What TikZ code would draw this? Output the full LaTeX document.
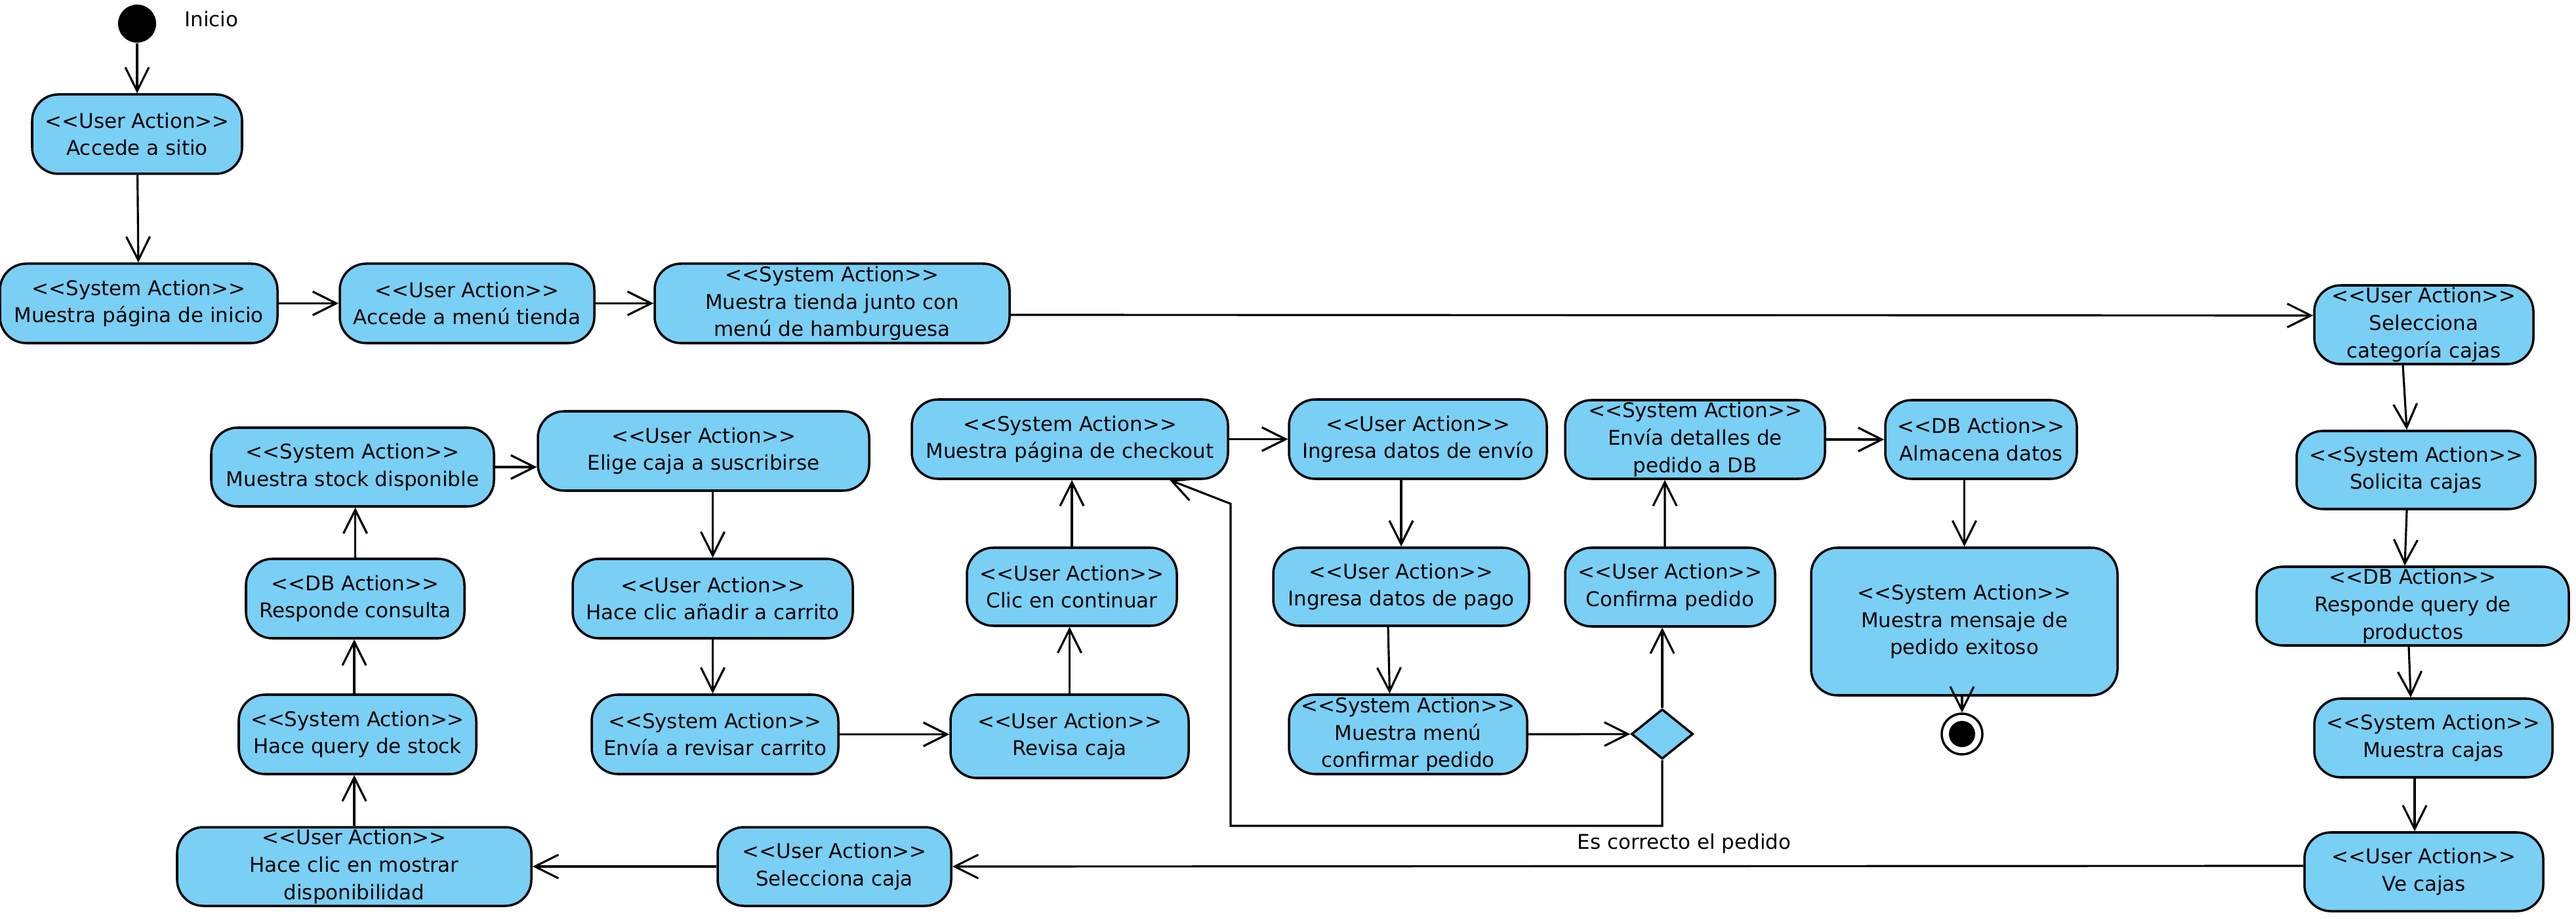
\documentclass[tikz,border=0pt]{standalone}
\usepackage{fontspec}
\setmainfont{DejaVu Sans}[Ligatures=TeXOff]
\usetikzlibrary{positioning}
\usetikzlibrary{arrows.meta}
\usetikzlibrary{shapes.geometric}

\definecolor{vpblue}{RGB}{122,207,245}

\tikzset{
  action/.style={draw, rectangle, rounded corners=0.4cm, fill=vpblue, line width=1pt,
    align=center, inner sep=0pt, minimum height=1.21cm},
  flow/.style={->, line width=0.9pt},
}

\begin{document}
\begin{tikzpicture}[>={Straight Barb[length=3.6mm,width=3.6mm]}, every node/.style={font=\fontsize{8.8pt}{11.9pt}\selectfont}]
    \useasboundingbox (0,0) rectangle (39.27,-14.01);

    % start and the top row
    \node[circle, fill=black, inner sep=0pt, minimum size=0.58cm] (inicio) at (2.09,-0.36) {};
    \node[right=0.42cm of inicio, yshift=0.07cm, inner sep=0pt] (inicioTxt) {Inicio};
    \node[action, minimum width=3.20cm] (accede) at (2.09,-2.045) {<<User Action>>\\Accede a sitio};
    \node[action, minimum width=4.23cm] (paginaInicio) at (2.115,-4.625) {<<System Action>>\\Muestra página de inicio};
    \node[action, minimum width=3.88cm] (menuTienda) at (7.12,-4.625) {<<User Action>>\\Accede a menú tienda};
    \node[action, minimum width=5.41cm] (tienda) at (12.685,-4.625) {<<System Action>>\\Muestra tienda junto con\\menú de hamburguesa};

    % right column
    \node[action, minimum width=3.34cm, minimum height=1.20cm] (categoria) at (36.95,-4.95) {<<User Action>>\\Selecciona\\categoría cajas};
    \node[action, minimum width=3.64cm, minimum height=1.19cm] (solicita) at (36.83,-7.165) {<<System Action>>\\Solicita cajas};
    \node[action, minimum width=4.76cm, minimum height=1.20cm] (respQuery) at (36.78,-9.24) {<<DB Action>>\\Responde query de\\productos};
    \node[action, minimum width=3.63cm, minimum height=1.20cm] (muestraCajas) at (37.095,-11.25) {<<System Action>>\\Muestra cajas};
    \node[action, minimum width=3.64cm, minimum height=1.20cm] (veCajas) at (36.95,-13.29) {<<User Action>>\\Ve cajas};

    % bottom row and left column
    \node[action, minimum width=3.56cm, minimum height=1.20cm] (selCaja) at (12.72,-13.21) {<<User Action>>\\Selecciona caja};
    \node[action, minimum width=5.40cm, minimum height=1.20cm] (mostrarDisp) at (5.40,-13.21) {<<User Action>>\\Hace clic en mostrar\\disponibilidad};
    \node[action, minimum width=3.62cm] (queryStock) at (5.45,-11.195) {<<System Action>>\\Hace query de stock};
    \node[action, minimum width=3.33cm] (respConsulta) at (5.415,-9.125) {<<DB Action>>\\Responde consulta};
    \node[action, minimum width=4.31cm, minimum height=1.20cm] (stockDisp) at (5.375,-7.12) {<<System Action>>\\Muestra stock disponible};

    % cart
    \node[action, minimum width=5.05cm] (eligeCaja) at (10.725,-6.875) {<<User Action>>\\Elige caja a suscribirse};
    \node[action, minimum width=4.27cm] (anadir) at (10.865,-9.125) {<<User Action>>\\Hace clic añadir a carrito};
    \node[action, minimum width=3.76cm] (revisarCarrito) at (10.90,-11.195) {<<System Action>>\\Envía a revisar carrito};
    \node[action, minimum width=3.63cm, minimum height=1.27cm] (revisaCaja) at (16.305,-11.225) {<<User Action>>\\Revisa caja};
    \node[action, minimum width=3.20cm, minimum height=1.19cm] (continuar) at (16.34,-8.945) {<<User Action>>\\Clic en continuar};
    \node[action, minimum width=4.82cm] (checkout) at (16.31,-6.695) {<<System Action>>\\Muestra página de checkout};

    % checkout
    \node[action, minimum width=3.93cm] (envio) at (21.615,-6.695) {<<User Action>>\\Ingresa datos de envío};
    \node[action, minimum width=3.90cm, minimum height=1.19cm] (pago) at (21.36,-8.945) {<<User Action>>\\Ingresa datos de pago};
    \node[action, minimum width=3.63cm] (menuConfirmar) at (21.465,-11.195) {<<System Action>>\\Muestra menú\\confirmar pedido};
    \node[diamond, draw, fill=vpblue, line width=1pt, inner sep=0pt, minimum width=0.94cm, minimum height=0.76cm] (decision) at (25.34,-11.19) {};
    \node[action, minimum width=3.20cm, minimum height=1.20cm] (confirma) at (25.46,-8.95) {<<User Action>>\\Confirma pedido};
    \node[action, minimum width=3.96cm, minimum height=1.20cm] (enviaDB) at (25.84,-6.70) {<<System Action>>\\Envía detalles de\\pedido a DB};
    \node[action, minimum width=2.92cm, minimum height=1.20cm] (almacena) at (30.20,-6.70) {<<DB Action>>\\Almacena datos};
    \node[action, minimum width=4.67cm, minimum height=2.25cm] (exitoso) at (29.945,-9.475) {<<System Action>>\\Muestra mensaje de\\pedido exitoso};
    \node[circle, draw, fill=white, line width=1pt, inner sep=0pt, minimum size=0.62cm] (fin) at (29.91,-11.19) {};
    \node[circle, fill=black, inner sep=0pt, minimum size=0.40cm] (finDot) at (fin) {};

    % the arrows
    \draw[flow] (inicio) -- (accede);
    \draw[flow] (accede) -- (paginaInicio);
    \draw[flow] (paginaInicio) -- (menuTienda);
    \draw[flow] (menuTienda) -- (tienda);
    \draw[flow] ([yshift=-0.175cm]tienda.east) -- ([yshift=0.14cm]categoria.west);
    \draw[flow] ([xshift=-0.32cm]categoria.south) -- ([xshift=-0.14cm]solicita.north);
    \draw[flow] ([xshift=-0.14cm]solicita.south) -- ([xshift=-0.12cm]respQuery.north);
    \draw[flow] ([xshift=-0.06cm]respQuery.south) -- ([xshift=-0.345cm]muestraCajas.north);
    \draw[flow] ([xshift=-0.285cm]muestraCajas.south) -- ([xshift=-0.14cm]veCajas.north);
    \draw[flow] ([yshift=0.09cm]veCajas.west) -- (selCaja.east);
    \draw[flow] (selCaja) -- (mostrarDisp);
    \draw[flow] (mostrarDisp.north) -- (mostrarDisp.north |- queryStock.south);
    \draw[flow] (mostrarDisp.north |- queryStock.north) -- (mostrarDisp.north |- respConsulta.south);
    \draw[flow] (respConsulta.north) -- (respConsulta.north |- stockDisp.south);
    \draw[flow] (stockDisp.east) -- (eligeCaja.west |- stockDisp.east);
    \draw[flow] (anadir.north |- eligeCaja.south) -- (anadir.north);
    \draw[flow] (anadir.south) -- (anadir.south |- revisarCarrito.north);
    \draw[flow] (revisarCarrito.east) -- (revisaCaja.west |- revisarCarrito.east);
    \draw[flow] (revisaCaja.north) -- (revisaCaja.north |- continuar.south);
    \draw[flow] (continuar.north) -- (continuar.north |- checkout.south);
    \draw[flow] (checkout.east) -- (envio.west);
    \draw[flow] (pago.north |- envio.south) -- (pago.north);
    \draw[flow] ([xshift=-0.20cm]pago.south) -- ([xshift=-0.28cm]menuConfirmar.north);
    \draw[flow] (menuConfirmar) -- (decision);
    \draw[flow] (decision.north) -- (decision.north |- confirma.south);
    \draw[flow] ([xshift=-0.08cm]confirma.north) -- ([xshift=-0.46cm]enviaDB.south);
    \draw[flow] (enviaDB) -- (almacena);
    \draw[flow] (exitoso.north |- almacena.south) -- (exitoso.north);
    \draw[flow] (fin.north |- exitoso.south) -- (fin.north);

    % back to checkout
    \coordinate (loopCorner) at (25.34,-12.59);
    \coordinate (loopLeft) at (18.76,-12.59);
    \coordinate (loopUp) at (18.76,-7.68);
    \draw[flow] (decision.south) -- (loopCorner) -- (loopLeft) -- (loopUp) -- ([xshift=1.52cm]checkout.south);
    \node[anchor=north west, inner sep=0pt] (correcto) at (24.04,-12.70) {Es correcto el pedido};
\end{tikzpicture}
\end{document}
